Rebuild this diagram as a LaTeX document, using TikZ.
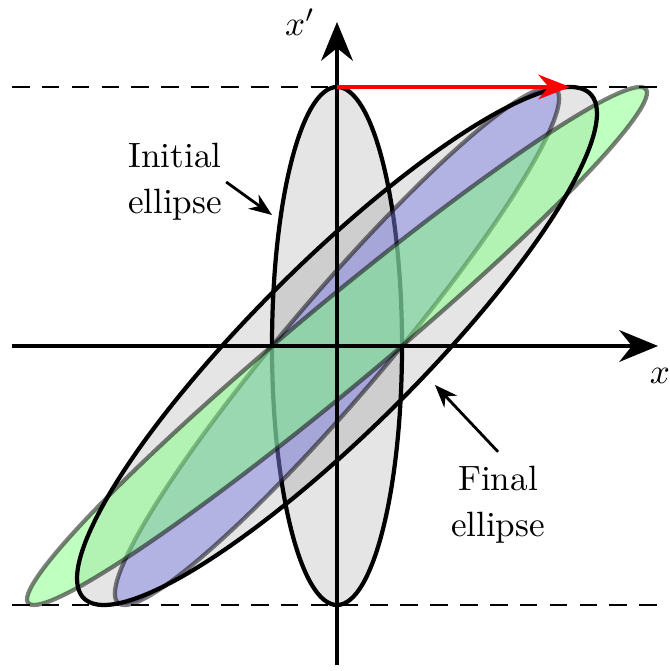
\documentclass[tikz,border=0pt]{standalone}
\usetikzlibrary{arrows.meta}
\definecolor{fanblue}{RGB}{127,127,225}
\tikzset{
  axis/.style={very thick,-{Stealth[length=11pt,width=9pt]}},
  bound/.style={thick,dash pattern=on 5pt off 3.5pt},
  greyfill/.style={fill=black,fill opacity=0.1},
  rim/.style={very thick},
  bluefan/.style={fill=fanblue,fill opacity=0.5,draw=black,draw opacity=0.5,very thick},
  greenfan/.style={fill=green!50,fill opacity=0.5,draw=black,draw opacity=0.5,very thick},
  lbl/.style={align=center,inner sep=1pt},
  pointer/.style={thick,-{Stealth[length=6.5pt,width=5pt]}}
}

\begin{document}
\begin{tikzpicture}
  \useasboundingbox (-3.37,-3.25) rectangle (3.32,3.46);
  \fill[greyfill,xslant=0.9] (0,0) ellipse (1.15 and 2.59);
  \filldraw[greyfill,rim] (0,0) ellipse (0.65 and 2.59);
  \filldraw[bluefan,xslant=0.82] (0,0) ellipse (0.65 and 2.59);
  \filldraw[greenfan,xslant=1.17] (0,0) ellipse (0.65 and 2.59);
  \draw[rim,xslant=0.9] (0,0) ellipse (1.15 and 2.59);

  \draw[bound] (-3.25,2.59) -- (3.32,2.59);
  \draw[bound] (-3.25,-2.59) -- (3.32,-2.59);
  \draw[axis] (-3.25,0) -- (3.21,0);
  \draw[axis] (0,-3.19) -- (0,3.24);
  \draw[very thick,red,-{Stealth[length=9pt,width=7pt]}] (0,2.59) -- (2.33,2.59);

  \node (xlab) at (3.23,-0.3) {$x$};
  \node (xplab) at (-0.37,3.24) {$x'$};
  \node[lbl] (initlab) at (-1.62,1.64) {Initial\\[1pt]ellipse};
  \node[lbl] (finallab) at (1.61,-1.59) {Final\\[1pt]ellipse};
  \coordinate (initedge) at (-0.65,1.31);
  \coordinate (finaledge) at (0.98,-0.39);
  \draw[pointer] (initlab.east) -- (initedge);
  \draw[pointer] ([yshift=3pt]finallab.north) -- (finaledge);
\end{tikzpicture}
\end{document}
